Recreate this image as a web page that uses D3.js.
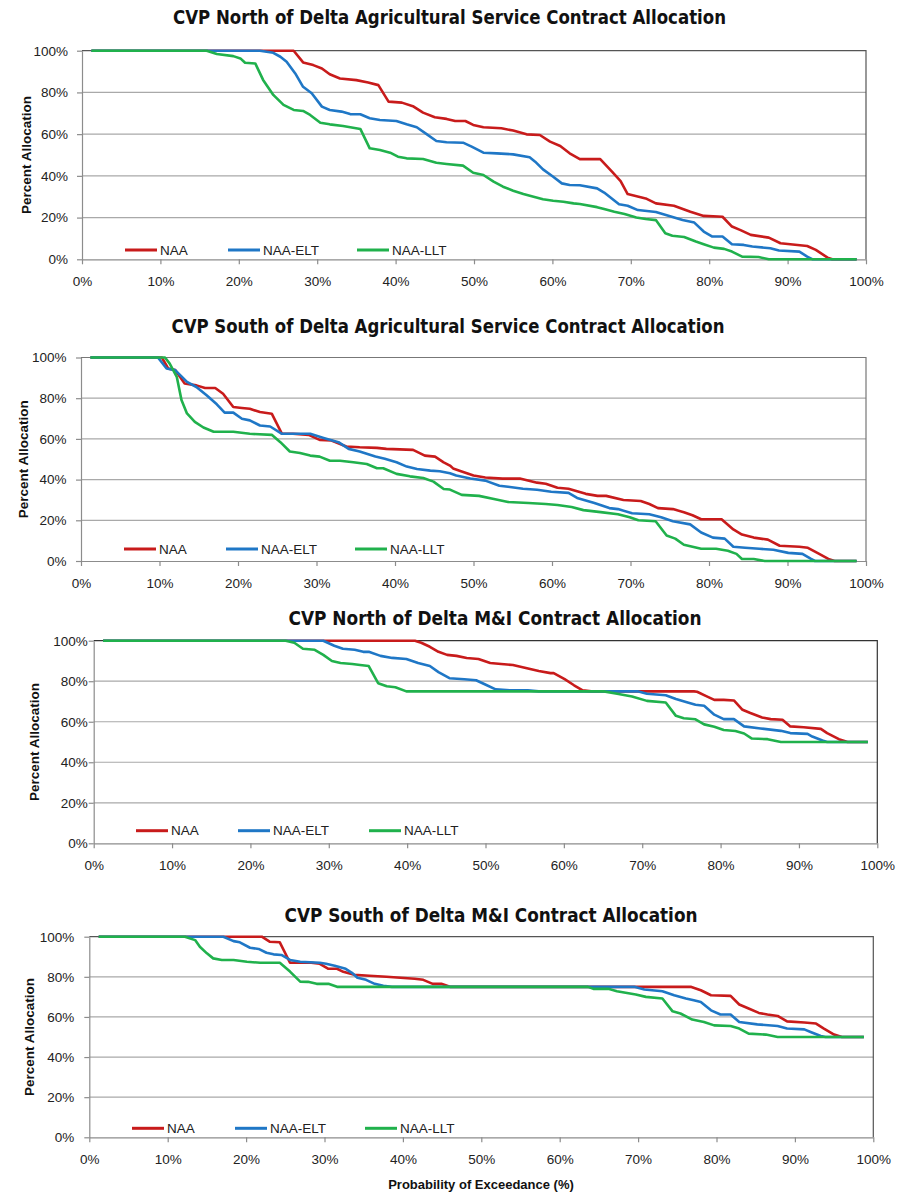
<!DOCTYPE html>
<html><head><meta charset="utf-8">
<script src="https://cdn.jsdelivr.net/npm/d3@7"></script>
<style>body{margin:0;background:#fff}svg{display:block}</style>
</head><body><svg id="c" width="904" height="1194"></svg>
<script>
// ---------- data ----------
const seriesNames = ["NAA", "NAA-ELT", "NAA-LLT"];
const xTicks = [0, 10, 20, 30, 40, 50, 60, 70, 80, 90, 100];
const yTicks = [0, 20, 40, 60, 80, 100];
const chartTitles = [
  "CVP North of Delta Agricultural Service Contract Allocation",
  "CVP South of Delta Agricultural Service Contract Allocation",
  "CVP North of Delta M&I Contract Allocation",
  "CVP South of Delta M&I Contract Allocation"
];
const yAxisTitle = "Percent Allocation";
const xAxisTitle = "Probability of Exceedance (%)";

// [probability of exceedance %, percent allocation %]
const northAgNAA = [[1.2,100],[27,100],[28.2,94.4],[29.5,93.1],[30.6,91.5],[31.6,88.7],[32.9,86.7],[35,85.9],[36.5,84.8],[37.8,83.5],[39.1,75.6],[40.8,75.1],[42.3,73.2],[43.5,70.3],[45,68.1],[46.5,67.3],[47.6,66.3],[48.9,66.3],[49.9,64.4],[51.2,63.3],[53.5,62.8],[55,61.7],[56.7,59.9],[58.4,59.6],[59.7,56.4],[61,54.3],[62.2,50.8],[63.5,48],[66.1,48],[67.6,42],[68.7,37.5],[69.6,31.3],[71.9,29.2],[73.2,26.8],[75.5,25.7],[77.6,22.8],[79.3,20.8],[81.7,20.4],[82.9,15.7],[84,14],[85.3,11.7],[87.6,10.4],[89.1,7.7],[92.5,6.4],[93.6,4.5],[95.1,0.8],[95.7,0],[98.8,0]];
const northAgELT = [[1.2,100],[22.7,100],[24.4,99],[25.3,97.1],[26.1,94.7],[27.2,89.1],[28.2,82.7],[29.3,79.6],[30.6,73.2],[31.6,71.6],[33.1,70.8],[34.2,69.6],[35.5,69.5],[36.7,67.6],[38,66.8],[40.1,66.3],[41.4,64.7],[42.7,63.3],[44,59.9],[45.2,56.7],[46.5,56.1],[48.6,55.9],[49.7,54],[51.2,51.1],[52.9,50.8],[55,50.3],[57.1,48.9],[57.8,46.8],[58.8,43.1],[60.1,39.6],[61.2,36.4],[62.2,35.6],[63.5,35.5],[65.7,34],[66.6,32],[68.5,26.4],[69.6,25.7],[70.9,23.6],[73.2,22.7],[74.9,20.8],[76.6,18.8],[78.1,17.6],[79.3,13.3],[80.4,10.9],[81.7,10.9],[82.9,7.2],[84.4,6.9],[85.5,6.1],[87.8,5.3],[88.9,4.2],[91.5,3.7],[92.5,1.3],[93.2,0],[98.8,0]];
const northAgLLT = [[1.2,100],[15.9,100],[17.2,98.4],[19.3,97.4],[20.2,96.3],[20.8,94.2],[22.1,93.9],[23.1,86],[24.4,78.8],[25.7,74],[27,71.6],[28.2,71.1],[29.1,69.2],[30.4,65.5],[31.6,64.7],[33.3,63.9],[35.5,62.5],[36.7,53.2],[38,52.4],[39.3,51.1],[40.3,49.2],[41.4,48.4],[43.5,48.1],[45.2,46.3],[46.5,45.7],[48.6,44.9],[49.9,41.5],[51.2,40.4],[52.5,37.2],[53.7,34.8],[55,32.9],[56.3,31.3],[57.6,30],[58.8,28.8],[60.1,28.1],[61.4,27.6],[62.7,26.8],[63.5,26.5],[65.7,25],[66.6,24.1],[67.9,22.8],[69.2,21.7],[70.7,20],[71.9,19.3],[73.2,18.8],[74.4,12.5],[75.3,11.3],[76.8,10.7],[78.3,8.5],[79.3,7.2],[80.6,5.6],[81.9,5],[82.9,3.7],[84.2,1.3],[86.3,1.1],[87.6,0],[98.8,0]];

const southAgNAA = [[1.2,100],[10.3,100],[11.1,94.6],[12,93.8],[13.2,87.2],[14.7,86.3],[15.8,85],[17.1,85],[18.1,82.2],[19.4,75.7],[20.5,75.2],[21.5,74.8],[22.8,73.2],[24.3,72.4],[25.6,62.5],[27,62.5],[29,62],[30.4,59.5],[31.9,59.2],[33.8,56.3],[35.5,55.9],[37.7,55.6],[38.9,55.1],[42.3,54.6],[43.8,51.8],[45.1,51.3],[46.2,48.5],[47,46.9],[47.4,45.5],[48.5,44],[50,42],[51.5,41],[53.7,40.5],[55.9,40.5],[58.1,38.5],[59.2,38],[60.7,36],[62.1,35.5],[64.3,33],[65.8,32],[66.9,32],[69.1,30],[71.3,29.5],[72.4,28],[73.5,26],[75.4,25.5],[76.8,24],[77.9,22.5],[79,20.5],[81.6,20.5],[83.1,15.5],[84.2,13],[85.7,11.5],[87.5,10.5],[89,7.5],[91.5,7],[92.6,6.5],[93.8,4],[95.2,1],[96,0],[98.8,0]];
const southAgELT = [[1.2,100],[9.8,100],[10.9,94.6],[12,93.8],[13.5,88],[14.7,85.5],[16,81.4],[17.3,77],[18.3,72.9],[19.4,72.9],[20.5,69.9],[21.5,69.1],[22.8,66.6],[24.1,66.1],[25.6,62.5],[29.2,62.5],[30.9,60.5],[32.8,58.4],[34.1,55.1],[35.5,53.8],[37.5,51.3],[38.7,50.2],[40.2,48.5],[41.5,46.4],[42.8,45.2],[44.5,44.4],[45.7,44.1],[47,43.1],[47.8,42],[49.6,40.5],[51.5,39.5],[53.3,37],[54.4,36.5],[56.3,35.5],[58.1,35],[59.9,34],[62.1,33.5],[63.2,31],[65.4,28.5],[67.3,26],[68.4,25.5],[70.2,23.5],[72.4,23],[73.9,21.5],[75.4,19.5],[77.6,18],[79,14],[80.5,11.5],[82,11],[83.1,7],[84.6,6.5],[86.4,6],[88.2,5.5],[90.1,4],[91.9,3.5],[93,1],[93.5,0],[98.8,0]];
const southAgLLT = [[1.2,100],[10.7,100],[11.3,97],[12.2,90.5],[12.8,79.1],[13.5,72.5],[14.5,68.4],[15.6,65.6],[16.9,63.5],[19.4,63.5],[21.5,62.5],[24.3,62],[25.4,58.4],[26.6,53.8],[27.9,53.1],[29.2,51.8],[30.4,51.3],[31.7,49.3],[33,49.3],[34.7,48.5],[36.4,47.7],[37.7,45.6],[38.5,45.6],[40.2,42.8],[41.9,41.6],[43.6,40.8],[44.9,39],[46.2,35.4],[47,35.1],[48.5,32.5],[50.7,32],[52.6,30.5],[54.4,29],[57,28.5],[59.2,28],[60.7,27.5],[62.5,26.5],[64,25],[66.2,24],[68.4,23],[69.9,21.5],[71,20],[73.2,19.5],[74.6,12.5],[75.7,11],[76.8,8],[77.9,7],[79,6],[80.9,6],[82.4,5],[83.5,3.5],[84.2,1],[85.7,1],[87.1,0],[98.8,0]];

const northMINAA = [[1.2,100],[41,100],[41.8,99],[42.9,97],[44,94.5],[45.1,93],[46.3,92.5],[47.6,91.5],[49.1,91],[50.6,89],[52,88.5],[53.5,88],[54.6,87],[55.7,86],[56.8,85],[58.3,84],[58.7,84],[60.1,81],[61.3,78],[62.4,75.5],[63.5,75],[76.6,75],[77,74.8],[78.1,72.8],[79.2,70.8],[80.4,70.8],[81.7,70.5],[82.8,65.9],[83.8,64.3],[85.3,62.1],[86.4,61.3],[87.9,61],[88.9,57.7],[90.6,57.3],[92.8,56.5],[93.6,54.4],[95.1,51.4],[96.2,50],[98.8,50]];
const northMIELT = [[1.2,100],[29.3,100],[30.7,97.5],[31.8,96],[33.3,95.5],[34.4,94.5],[35.1,94.5],[36.6,92.5],[38.1,91.5],[39.9,91],[41.4,89],[42.9,87.5],[44,84.5],[45.4,81.5],[47.3,81],[48.8,80.5],[49.9,78.5],[51.3,76],[53.1,75.5],[55.4,75.5],[56.8,75],[69.4,75],[70.6,73.8],[73,73.1],[74.3,71.2],[75.8,69.5],[76.8,68.4],[77.9,67.9],[79.2,63.5],[80.4,61.3],[81.7,61.3],[83,57.7],[85.1,56.7],[87.7,55.5],[88.9,54.4],[91.1,54],[91.7,52.7],[93,50.7],[93.6,50],[98.8,50]];
const northMILLT = [[1.2,100],[24.5,100],[25.6,99],[26.7,96],[28.2,95.5],[29.3,93],[30.4,90],[31.5,89],[33,88.5],[34,88],[35.1,87.5],[36.3,79],[37.4,77.5],[38.5,77],[39.9,75],[65.1,75],[66.8,73.8],[68.7,72.5],[70.6,70.3],[73,69.5],[74.3,62.9],[75.3,61.7],[76.8,61.2],[77.9,58.7],[79.2,57.5],[80.4,55.9],[81.9,55.4],[83,54.2],[84,51.7],[86,51.4],[87.7,50],[98.8,50]];

const southMINAA = [[1.2,100],[22,100],[23,97.5],[24.3,97.2],[25.6,87],[28.3,87],[29.4,86.5],[30.5,84],[31.6,84],[32.4,82.5],[33.8,81],[35.7,80.5],[37.9,80],[39.7,79.5],[41.5,79],[42.6,78.5],[43.8,76.5],[44.9,76.5],[46,75],[76.7,75],[78,73.3],[79.3,70.8],[81.8,70.5],[82.9,66.2],[84.1,64.2],[85.4,62],[86.5,61.2],[87.8,60.5],[89,57.8],[91.2,57.2],[92.7,56.7],[93.7,54.2],[95,51.2],[96,50],[98.8,50]];
const southMIELT = [[1.2,100],[17.1,100],[18.4,97.8],[19.2,97.2],[20.5,94.5],[21.6,93.9],[22.6,92],[23.5,91.2],[24.5,90.9],[25.6,88.4],[26.9,87.5],[29.4,87],[30.2,86.5],[31.3,85.5],[32.7,84],[33.5,82],[34.2,79.5],[35.3,78.5],[36.4,76.5],[37.5,75.5],[38.6,75],[69.5,75],[70.8,73.7],[73.1,72.8],[74.6,70.8],[76.1,69.2],[77.1,68.3],[78,67.5],[79.3,63.3],[80.5,61.2],[81.8,61.2],[82.9,57.5],[85.2,56.3],[87.8,55.5],[89,54.2],[91.2,53.8],[92,52.5],[93.3,50.5],[93.9,50],[98.8,50]];
const southMILLT = [[1.2,100],[12.2,100],[13.5,98.3],[14.1,95],[15,91.7],[15.8,89.2],[16.9,88.4],[18.4,88.4],[20.1,87.5],[21.8,87],[24.3,87],[25.6,82.6],[26.9,77.6],[27.9,77.5],[29,76.5],[30.5,76.5],[31.6,75],[63.6,75],[64.3,74],[66.2,74],[67.3,72.8],[69.7,71.2],[71,70],[73.1,69.2],[74.4,62.8],[75.4,61.7],[76.9,58.7],[78.4,57.5],[79.7,55.8],[81.8,55.5],[82.9,54.2],[84.1,51.7],[86.3,51.2],[87.8,50],[98.8,50]];

// ---------- styling / layout ----------
const colors = ["#c81b1b", "#1f77c6", "#20b14c"];
const FONT = "'Liberation Sans', Arial, sans-serif";
const NARROW = "'Liberation Sans Narrow', 'DejaVu Sans Condensed', 'Arial Narrow', sans-serif";

const panels = [
  { title: chartTitles[0], series: [northAgNAA, northAgELT, northAgLLT],
    l: 82, r: 866, t: 50.7, b: 259.3, tx: 449.5, ty: 23.5, titleW: 553, ylx: 26, gap: 14,
    legY: 250, legX: [125, 228, 357], border: "#555" },
  { title: chartTitles[1], series: [southAgNAA, southAgELT, southAgLLT],
    l: 81, r: 866, t: 357.5, b: 561, tx: 448, ty: 333, titleW: 553, ylx: 23, gap: 14.6,
    legY: 549, legX: [124, 226, 355], border: "#777" },
  { title: chartTitles[2], series: [northMINAA, northMIELT, northMILLT],
    l: 93.7, r: 877.3, t: 640.7, b: 843.3, tx: 495, ty: 625, titleW: 413, ylx: 34, gap: 6,
    legY: 830.7, legX: [136, 238, 369], border: "#333" },
  { title: chartTitles[3], series: [southMINAA, southMIELT, southMILLT],
    l: 89.3, r: 873.3, t: 936.7, b: 1137.3, tx: 491, ty: 922, titleW: 413, ylx: 29, gap: 15,
    legY: 1128.3, legX: [132, 235, 365], border: "#555" }
];

const svg = d3.select("#c");

panels.forEach((p, pi) => {
  const x = d3.scaleLinear().domain([0, 100]).range([p.l, p.r]);
  const y = d3.scaleLinear().domain([0, 100]).range([p.b, p.t]);
  const g = svg.append("g");

  // title
  g.append("text").attr("x", p.tx).attr("y", p.ty).attr("text-anchor", "middle")
    .attr("font-family", NARROW).attr("font-weight", "bold").attr("font-size", 19)
    .attr("textLength", p.titleW).attr("lengthAdjust", "spacingAndGlyphs")
    .attr("fill", "#111").text(p.title);

  // gridlines
  g.append("g").selectAll("line").data(yTicks.filter(d => d > 0 && d < 100)).join("line")
    .attr("x1", p.l).attr("x2", p.r).attr("y1", d => y(d)).attr("y2", d => y(d))
    .attr("stroke", "#a9a9a9").attr("stroke-width", 1.2);

  // top and right border
  g.append("path")
    .attr("d", `M${p.l},${y(100)}H${p.r}V${p.b}`)
    .attr("fill", "none").attr("stroke", p.border).attr("stroke-width", 1.2);

  // axes
  const ax = g.append("g").attr("transform", `translate(0,${p.b})`)
    .call(d3.axisBottom(x).tickValues(xTicks).tickFormat(d => d + "%").tickSize(5).tickPadding(12.5).tickSizeOuter(0));
  const ay = g.append("g").attr("transform", `translate(${p.l},0)`)
    .call(d3.axisLeft(y).tickValues(yTicks).tickFormat(d => d + "%").tickSize(5).tickPadding(p.gap - 5).tickSizeOuter(0));
  [ax, ay].forEach(a => {
    a.select(".domain").attr("stroke", "#8c8c8c").attr("stroke-width", 1.2);
    a.selectAll(".tick line").attr("stroke", "#8c8c8c").attr("stroke-width", 1.2);
    a.selectAll("text").attr("font-family", FONT).attr("font-size", 13.5).attr("fill", "#222");
  });

  // y axis title
  g.append("text").attr("transform", `translate(${p.ylx},${(p.t + p.b) / 2}) rotate(-90)`)
    .attr("text-anchor", "middle").attr("dy", "0.35em")
    .attr("font-family", FONT).attr("font-weight", "bold").attr("font-size", 13.5)
    .attr("fill", "#111").text(yAxisTitle);

  // series
  const line = d3.line().x(d => x(d[0])).y(d => y(d[1]));
  p.series.forEach((s, si) => {
    g.append("path").datum(s).attr("d", line).attr("fill", "none")
      .attr("stroke", colors[si]).attr("stroke-width", 2.6)
      .attr("stroke-linejoin", "round").attr("stroke-linecap", "butt");
  });

  // legend
  seriesNames.forEach((n, si) => {
    const lx = p.legX[si];
    g.append("line").attr("x1", lx).attr("x2", lx + 32).attr("y1", p.legY).attr("y2", p.legY)
      .attr("stroke", colors[si]).attr("stroke-width", 3);
    g.append("text").attr("x", lx + 35).attr("y", p.legY).attr("dy", "0.35em")
      .attr("font-family", FONT).attr("font-size", 13.5).attr("fill", "#222").text(n);
  });

  if (pi === panels.length - 1) {
    g.append("text").attr("x", 481).attr("y", 1189).attr("text-anchor", "middle")
      .attr("font-family", FONT).attr("font-weight", "bold").attr("font-size", 13)
      .attr("fill", "#111").text(xAxisTitle);
  }
});
</script></body></html>
